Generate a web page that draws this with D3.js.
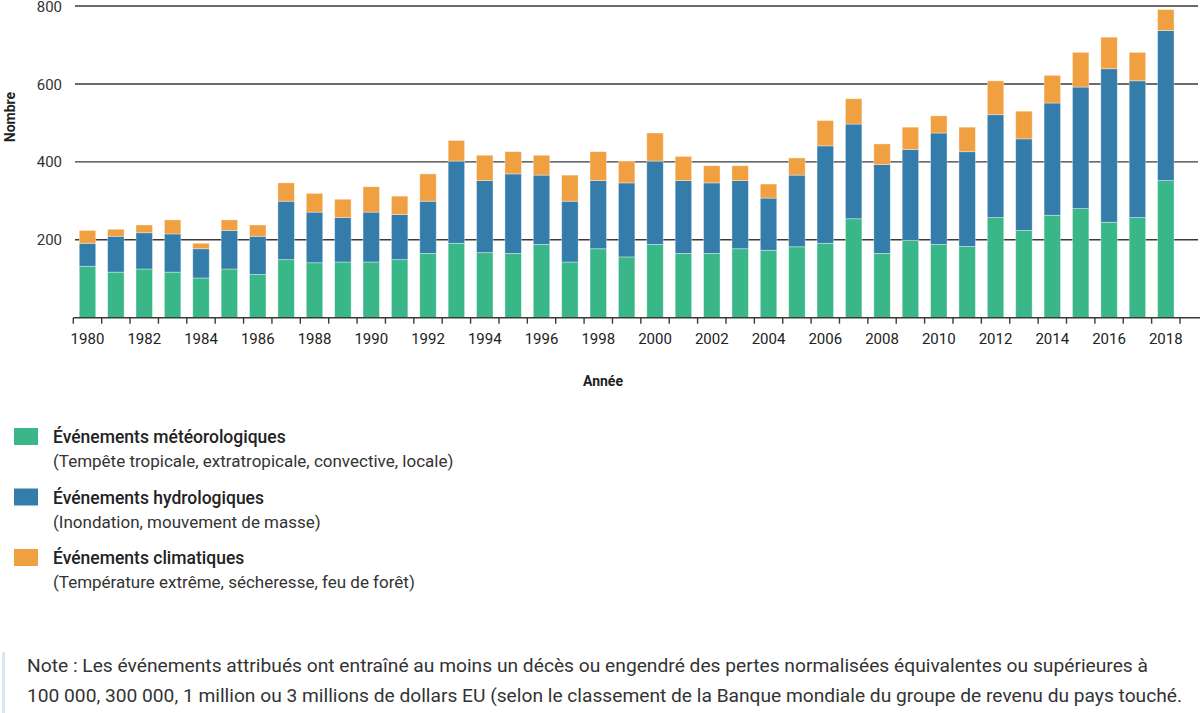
<!DOCTYPE html>
<html>
<head>
<meta charset="utf-8">
<script src="https://cdn.jsdelivr.net/npm/d3@7"></script>
<style>
  html, body { margin: 0; padding: 0; background: #fff; }
  svg { display: block; font-family: Roboto, "Open Sans", sans-serif; }
</style>
</head>
<body>
<svg id="chart" width="1200" height="713"></svg>
<script>
const years = d3.range(1980, 2019);
const meteo = [132,117,125,117,102,125,111,149,141,143,143,149,165,191,167,165,188,143,177,156,188,165,165,177,173,182,191,254,165,198,188,183,257,224,263,280,245,257,352];
const hydro = [59,92,93,98,75,99,98,150,130,114,128,116,134,211,185,204,178,156,175,190,214,187,181,175,134,184,250,243,228,234,286,243,264,235,288,312,394,351,385];
const clim  = [33,18,20,36,14,27,29,47,48,47,65,47,70,53,65,57,51,67,74,56,72,62,44,38,36,44,65,65,53,57,44,63,87,71,71,89,81,73,54];
const yTicks = [200, 400, 600, 800];
const xTickLabels = years.filter(y => (y - 1980) % 2 === 0);
const seriesKeys = ["meteo", "hydro", "clim"];
const seriesColors = ["#3ab789", "#347caa", "#f0a040"];
const legendTitles = ["Événements météorologiques", "Événements hydrologiques", "Événements climatiques"];
const legendSubs = ["(Tempête tropicale, extratropicale, convective, locale)", "(Inondation, mouvement de masse)", "(Température extrême, sécheresse, feu de forêt)"];
const noteLines = [
  "Note : Les événements attribués ont entraîné au moins un décès ou engendré des pertes normalisées équivalentes ou supérieures à",
  "100 000, 300 000, 1 million ou 3 millions de dollars EU (selon le classement de la Banque mondiale du groupe de revenu du pays touché."
];

const table = years.map((y, i) => ({ year: y, meteo: meteo[i], hydro: hydro[i], clim: clim[i] }));

const svg = d3.select("#chart");
const x = d3.scaleBand().domain(years).range([73.3, 1180]).paddingInner(0.42).paddingOuter(0.21);
const y = d3.scaleLinear().domain([0, 800]).range([317.7, 6]);

// gridlines
svg.append("g").selectAll("line").data(yTicks).join("line")
  .attr("x1", 75).attr("x2", 1198)
  .attr("y1", d => y(d)).attr("y2", d => y(d))
  .attr("stroke", "#3a3a3a").attr("stroke-width", 1.4);

// y labels
svg.append("g").selectAll("text").data(yTicks).join("text")
  .attr("x", 62).attr("y", d => y(d) + 5.6)
  .attr("text-anchor", "end").attr("font-size", 15).attr("fill", "#333")
  .text(d => d);

// bars
const stack = d3.stack().keys(seriesKeys)(table);
svg.append("g").selectAll("g").data(stack).join("g")
  .attr("fill", (d, i) => seriesColors[i])
  .selectAll("rect").data(d => d).join("rect")
  .attr("x", d => x(d.data.year))
  .attr("width", x.bandwidth())
  .attr("y", d => y(d[1]))
  .attr("height", d => y(d[0]) - y(d[1]))
  .attr("stroke", "#ffffff").attr("stroke-opacity", 0.45).attr("stroke-width", 0.8);

// x axis baseline & ticks
svg.append("line").attr("x1", 73.3).attr("x2", 1200).attr("y1", y(0)).attr("y2", y(0))
  .attr("stroke", "#3a3a3a").attr("stroke-width", 1.4);
const tickPos = years.map(d => x(d) - x.step() * x.paddingInner() / 2).concat([x.range()[1]]);
svg.append("g").selectAll("line").data(tickPos).join("line")
  .attr("x1", d => d).attr("x2", d => d)
  .attr("y1", y(0)).attr("y2", y(0) + 6)
  .attr("stroke", "#3a3a3a").attr("stroke-width", 1.4);
svg.append("g").selectAll("text").data(xTickLabels).join("text")
  .attr("x", d => x(d) + x.bandwidth() / 2).attr("y", 343.5)
  .attr("text-anchor", "middle").attr("font-size", 15).attr("fill", "#222")
  .text(d => d);

// axis titles
svg.append("text").attr("x", 603).attr("y", 386).attr("text-anchor", "middle")
  .attr("font-size", 14).attr("font-weight", "bold").attr("fill", "#222").text("Année");
svg.append("text").attr("transform", "translate(15,117) rotate(-90)").attr("text-anchor", "middle")
  .attr("font-size", 14).attr("font-weight", "bold").attr("fill", "#222").text("Nombre");

// legend
const lg = svg.append("g").selectAll("g").data(seriesKeys).join("g")
  .attr("transform", (d, i) => `translate(0, ${428 + i * 60.5})`);
lg.append("rect").attr("x", 14).attr("y", 0).attr("width", 24).attr("height", 17)
  .attr("fill", (d, i) => seriesColors[i]);
lg.append("text").attr("x", 53).attr("y", 15).attr("font-size", 17.5).attr("font-weight", 500)
  .attr("fill", "#222").text((d, i) => legendTitles[i]);
lg.append("text").attr("x", 53).attr("y", 39).attr("font-size", 17)
  .attr("fill", "#333").text((d, i) => legendSubs[i]);

// note
svg.append("rect").attr("x", 2).attr("y", 652).attr("width", 3).attr("height", 61).attr("fill", "#dce6ef");
const noteEnds = [1148, 1182];
svg.append("g").selectAll("text").data(noteLines).join("text")
  .attr("x", 27).attr("y", (d, i) => 672 + i * 30)
  .attr("font-size", 19).attr("fill", "#333")
  .attr("textLength", (d, i) => noteEnds[i] - 27).attr("lengthAdjust", "spacingAndGlyphs")
  .text(d => d);
</script>
</body>
</html>
